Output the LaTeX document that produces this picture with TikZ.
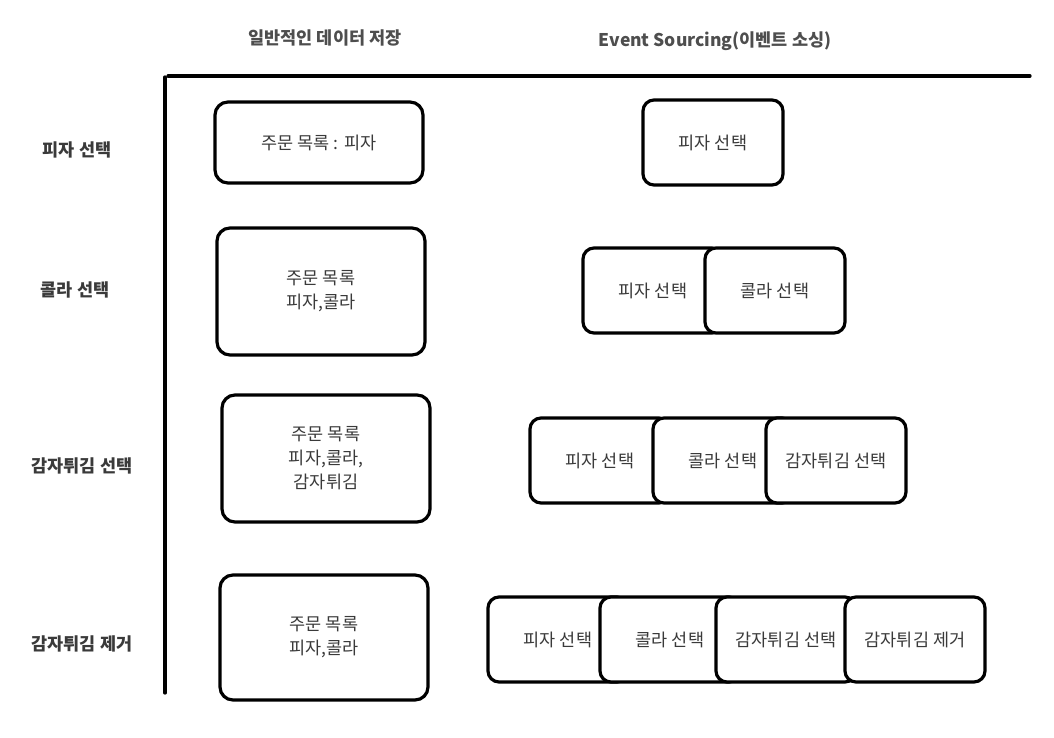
\documentclass[tikz,border=0pt]{standalone}
\usepackage{fontspec}
\setmainfont{Noto Sans CJK KR}
\usetikzlibrary{positioning}
\definecolor{txt}{HTML}{3A3A3A}
\tikzset{
  sketch/.style={line width=3.2pt, black, line cap=round},
  evbox/.style={draw=black, line width=3.2pt, fill=white, rounded corners=11pt,
    minimum width=140pt, minimum height=85pt, inner sep=0pt,
    text=txt, font=\fontsize{17.5}{21}\selectfont},
  stbox/.style={draw=black, line width=3.2pt, fill=white, rounded corners=13pt,
    inner sep=0pt, text=txt, align=center, font=\fontsize{17.5}{24}\selectfont},
  rowlabel/.style={text=txt, font=\bfseries\fontsize{17.5}{21}\selectfont},
  header/.style={text=txt!90, font=\bfseries\fontsize{17.5}{21}\selectfont},
}
\begin{document}
\begin{tikzpicture}[x=1pt, y=-1pt]
\useasboundingbox (0,0) rectangle (1054,738);
% headers
\node[header] (h1) at (325,38) {일반적인 데이터 저장};
\node[header] (h2) at (715,41) {Event Sourcing(이벤트 소싱)};
% axes
\coordinate (hl) at (168,76);
\coordinate (hr) at (1030,76);
\coordinate (vt) at (165,77);
\coordinate (vb) at (165,693);
\draw[sketch] (hl) -- (hr);
\draw[sketch] (vt) -- (vb);
% row labels
\node[rowlabel] (r1) at (77,150) {피자 선택};
\node[rowlabel] (r2) at (75,290) {콜라 선택};
\node[rowlabel] (r3) at (82,466) {감자튀김 선택};
\node[rowlabel] (r4) at (82,644) {감자튀김 제거};
% state boxes
\node[stbox, minimum width=208pt, minimum height=81pt] (s1) at (319,142.5) {주문 목록 : 피자};
\node[stbox, minimum width=208pt, minimum height=127pt] (s2) at (321,291.5) {주문 목록\\피자,콜라};
\node[stbox, minimum width=208pt, minimum height=127pt] (s3) at (326,458.5) {주문 목록\\피자,콜라,\\감자튀김};
\node[stbox, minimum width=208pt, minimum height=125pt] (s4) at (324,637.5) {주문 목록\\피자,콜라};
% event boxes row 1
\node[evbox] (e11) at (713,142.5) {피자 선택};
% row 2
\node[evbox] (e21) at (653,290.5) {피자 선택};
\node[evbox] (e22) at (775,290.5) {콜라 선택};
% row 3
\node[evbox] (e31) at (600,460.5) {피자 선택};
\node[evbox] (e32) at (723,460.5) {콜라 선택};
\node[evbox] (e33) at (836,460.5) {감자튀김 선택};
% row 4
\node[evbox] (e41) at (558,639.5) {피자 선택};
\node[evbox] (e42) at (670,639.5) {콜라 선택};
\node[evbox] (e43) at (786,639.5) {감자튀김 선택};
\node[evbox] (e44) at (915,639.5) {감자튀김 제거};
\end{tikzpicture}
\end{document}
